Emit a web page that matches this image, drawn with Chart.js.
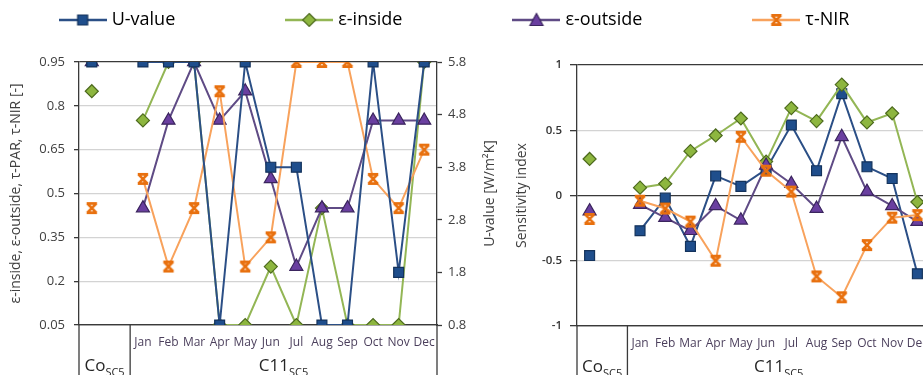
<!DOCTYPE html>
<html>
<head>
<meta charset="utf-8">
<script src="https://cdn.jsdelivr.net/npm/chart.js@4.4.1/dist/chart.umd.min.js"></script>
<style>
  html, body { margin: 0; padding: 0; background: #fff; }
  #wrap { position: relative; width: 923px; height: 375px; overflow: hidden; background: #fff; }
  #wrap canvas { position: absolute; }
</style>
</head>
<body>
<div id="wrap">
  <canvas id="legendChart" width="1100" height="260"></canvas>
  <canvas id="leftChart" width="520" height="375"></canvas>
  <canvas id="rightChart" width="470" height="375"></canvas>
</div>
<script>
// ---- categories ----
const monthLabels = ['', '', 'Jan', 'Feb', 'Mar', 'Apr', 'May', 'Jun', 'Jul', 'Aug', 'Sep', 'Oct', 'Nov', 'Dec'];
const groupMain = ['Co', 'C11'];
const groupSub = ['SC5', 'SC5'];
const groupSpan = [2, 12];
const seriesNames = ['U-value', 'ε-inside', 'ε-outside', 'τ-NIR'];

// ---- left panel: parameter values ----
const uValue     = [5.8, null, 5.8, 5.8, 5.8, 0.8, 5.8, 3.8, 3.8, 0.8, 0.8, 5.8, 1.8, 5.8];
const epsInside  = [0.85, null, 0.75, 0.95, 0.95, 0.05, 0.05, 0.25, 0.05, 0.45, 0.05, 0.05, 0.05, 0.95];
const epsOutside = [0.95, null, 0.45, 0.75, 0.95, 0.75, 0.85, 0.55, 0.25, 0.45, 0.45, 0.75, 0.75, 0.75];
const tauNir     = [0.45, null, 0.55, 0.25, 0.45, 0.85, 0.25, 0.35, 0.95, 0.95, 0.95, 0.55, 0.45, 0.65];
const leftTicks  = [0.05, 0.2, 0.35, 0.5, 0.65, 0.8, 0.95];
const uTicks     = [0.8, 1.8, 2.8, 3.8, 4.8, 5.8];

// ---- right panel: sensitivity indices ----
const siU        = [-0.46, null, -0.27, -0.02, -0.39, 0.15, 0.07, 0.20, 0.54, 0.19, 0.78, 0.22, 0.13, -0.60];
const siEpsIn    = [0.28, null, 0.06, 0.09, 0.34, 0.46, 0.59, 0.26, 0.67, 0.57, 0.85, 0.56, 0.63, -0.05];
const siEpsOut   = [-0.12, null, -0.07, -0.17, -0.27, -0.08, -0.19, 0.23, 0.09, -0.10, 0.45, 0.03, -0.08, -0.20];
const siTau      = [-0.18, null, -0.04, -0.10, -0.20, -0.50, 0.45, 0.19, 0.03, -0.62, -0.78, -0.38, -0.17, -0.15];

// ---- styling ----
const FONT = '"Open Sans", "DejaVu Sans", sans-serif';
const AXIS = '#3a3a3a';
const GRID = '#d3d3d3';
const TEXT = '#404040';
const MONTH = '#4b3f5c';
const U_TITLE = 'U-value [W/m²K]';
const STYLE = [
  { line: '#2B4F86', fill: '#1F4E8C', edge: '#14335C', shape: 'rect',     radius: 7 },
  { line: '#93B655', fill: '#8DB63F', edge: '#4D6A1E', shape: 'rectRot',  radius: 6.5 },
  { line: '#5F4B85', fill: '#6A3FA0', edge: '#3B255E', shape: 'triangle', radius: 7.5 },
  { line: '#F8A25C', fill: '#E8700E', edge: '#E8700E', shape: 'star',     radius: 6 }
];

// star-like marker (X with caps), drawn onto a small canvas
function drawStar(ctx, cx, cy, color) {
  ctx.save();
  ctx.strokeStyle = color;
  ctx.lineWidth = 2.6;
  ctx.lineCap = 'butt';
  const s = 4.6;
  ctx.beginPath();
  ctx.moveTo(cx - s, cy - s); ctx.lineTo(cx + s, cy + s);
  ctx.moveTo(cx + s, cy - s); ctx.lineTo(cx - s, cy + s);
  ctx.moveTo(cx - s - 0.6, cy - s); ctx.lineTo(cx + s + 0.6, cy - s);
  ctx.moveTo(cx - s - 0.6, cy + s); ctx.lineTo(cx + s + 0.6, cy + s);
  ctx.stroke();
  ctx.restore();
}
function starCanvas(color) {
  const c = document.createElement('canvas');
  c.width = 14; c.height = 14;
  drawStar(c.getContext('2d'), 7, 7, color);
  return c;
}
const starMarker = starCanvas(STYLE[3].fill);

// legend swatch: series line with its marker in the middle
function legendSwatch(st) {
  const c = document.createElement('canvas');
  c.width = 48; c.height = 16;
  const g = c.getContext('2d');
  g.strokeStyle = st.line; g.lineWidth = 2.5;
  g.beginPath(); g.moveTo(0, 8); g.lineTo(48, 8); g.stroke();
  g.fillStyle = st.fill; g.strokeStyle = st.edge; g.lineWidth = 1.2;
  g.beginPath();
  if (st.shape === 'rect') { g.rect(19, 3, 10, 10); g.fill(); g.stroke(); }
  else if (st.shape === 'rectRot') { g.moveTo(24, 1.5); g.lineTo(30.5, 8); g.lineTo(24, 14.5); g.lineTo(17.5, 8); g.closePath(); g.fill(); g.stroke(); }
  else if (st.shape === 'triangle') { g.moveTo(24, 1.5); g.lineTo(30.5, 13.5); g.lineTo(17.5, 13.5); g.closePath(); g.fill(); g.stroke(); }
  else { drawStar(g, 24, 8, st.fill); }
  return c;
}

function seriesDataset(i, data, axis, order) {
  const st = STYLE[i];
  return {
    label: seriesNames[i],
    data: data,
    yAxisID: axis,
    order: order,
    borderColor: st.line,
    borderWidth: 2,
    tension: 0,
    spanGaps: false,
    pointStyle: st.shape === 'star' ? starMarker : st.shape,
    pointRadius: st.radius,
    pointHoverRadius: st.radius,
    pointBackgroundColor: st.fill,
    pointBorderColor: st.edge,
    pointBorderWidth: 1.2
  };
}

// two-level category axis: group separators and group names with subscripts
const groupAxis = {
  id: 'groupAxis',
  afterDraw(chart) {
    const { ctx, chartArea } = chart;
    const xs = chart.scales.x;
    const bottom = chartArea.bottom;
    const edges = [chartArea.left];
    let count = 0;
    groupSpan.forEach(n => {
      count += n;
      edges.push(count < monthLabels.length
        ? (xs.getPixelForValue(count - 1) + xs.getPixelForValue(count)) / 2
        : chartArea.right);
    });
    ctx.save();
    ctx.strokeStyle = AXIS;
    ctx.lineWidth = 1.3;
    edges.forEach(px => {
      ctx.beginPath(); ctx.moveTo(px, bottom); ctx.lineTo(px, chart.height); ctx.stroke();
    });
    ctx.fillStyle = '#262626';
    ctx.textAlign = 'left';
    ctx.textBaseline = 'alphabetic';
    groupMain.forEach((main, i) => {
      const cx = (edges[i] + edges[i + 1]) / 2;
      ctx.font = '17px ' + FONT;
      const w1 = ctx.measureText(main).width;
      ctx.font = '11px ' + FONT;
      const w2 = ctx.measureText(groupSub[i]).width;
      const x0 = cx - (w1 + w2) / 2;
      ctx.font = '17px ' + FONT;
      ctx.fillText(main, x0, bottom + 46);
      ctx.font = '11px ' + FONT;
      ctx.fillText(groupSub[i], x0 + w1, bottom + 51);
    });
    ctx.restore();
  }
};

// secondary-axis title, reading bottom to top like the primary one
const uAxisTitle = {
  id: 'uAxisTitle',
  afterDraw(chart) {
    const s = chart.scales.yU;
    if (!s) return;
    const { ctx } = chart;
    ctx.save();
    ctx.translate(s.right - 30, (s.top + s.bottom) / 2);
    ctx.rotate(-Math.PI / 2);
    ctx.font = '14px ' + FONT;
    ctx.fillStyle = TEXT;
    ctx.textAlign = 'center';
    ctx.textBaseline = 'middle';
    ctx.fillText(U_TITLE, 0, 0);
    ctx.restore();
  }
};

const xAxis = (h) => ({
  type: 'category',
  offset: true,
  grid: { display: false, drawTicks: false },
  border: { display: true, color: AXIS, width: 1.3 },
  ticks: { autoSkip: false, maxRotation: 0, minRotation: 0, padding: 10,
           font: { family: FONT, size: 12 }, color: MONTH },
  afterFit: s => { s.height = h; }
});

// ---- legend ----
const LEG_PAD = 114, LEG_FONT = 18, LEG_W = 1100;
const legendCanvas = document.getElementById('legendChart');
legendCanvas.style.left = (456 - LEG_W / 2) + 'px';
legendCanvas.style.top = (20 - (LEG_PAD + LEG_FONT / 2)) + 'px';
const swatches = STYLE.map(legendSwatch);
new Chart(legendCanvas, {
  type: 'line',
  data: { labels: [], datasets: seriesNames.map((n, i) => ({ label: n, data: [], borderColor: STYLE[i].line })) },
  options: {
    responsive: false, animation: false,
    scales: { x: { display: false }, y: { display: false } },
    plugins: {
      tooltip: { enabled: false },
      legend: {
        position: 'top',
        labels: {
          usePointStyle: true, pointStyleWidth: 40, padding: LEG_PAD,
          font: { family: FONT, size: LEG_FONT }, color: '#262626',
          generateLabels: () => seriesNames.map((n, i) => ({
            text: n, pointStyle: swatches[i], fillStyle: STYLE[i].fill,
            strokeStyle: STYLE[i].edge, lineWidth: 0, hidden: false, datasetIndex: i
          }))
        }
      }
    }
  }
});

// ---- left panel ----
new Chart(document.getElementById('leftChart'), {
  type: 'line',
  data: {
    labels: monthLabels,
    datasets: [
      seriesDataset(0, uValue, 'yU', 0),
      seriesDataset(1, epsInside, 'y', 3),
      seriesDataset(2, epsOutside, 'y', 2),
      seriesDataset(3, tauNir, 'y', 1)
    ]
  },
  options: {
    responsive: false, animation: false,
    layout: { padding: { top: 62, left: 0, right: 0, bottom: 0 } },
    plugins: { legend: { display: false }, tooltip: { enabled: false } },
    scales: {
      x: xAxis(50),
      y: {
        position: 'left', min: 0.05, max: 0.95,
        afterBuildTicks: s => { s.ticks = leftTicks.map(v => ({ value: v })); },
        ticks: { callback: v => String(+Number(v).toFixed(2)), padding: 9,
                 font: { family: FONT, size: 13 }, color: TEXT },
        grid: { color: c => (c.index === 0 || c.index === leftTicks.length - 1) ? AXIS : GRID,
                lineWidth: 1.3, tickLength: 5, tickColor: AXIS, tickWidth: 1.3 },
        border: { display: true, color: AXIS, width: 1.3 },
        title: { display: true, text: 'ε-inside, ε-outside, τ-PAR, τ-NIR [-]',
                 font: { family: FONT, size: 14 }, color: TEXT, padding: { top: 8, bottom: 0 } },
        afterFit: s => { s.width = 79; }
      },
      yU: {
        position: 'right', min: 0.8, max: 5.8,
        afterBuildTicks: s => { s.ticks = uTicks.map(v => ({ value: v })); },
        ticks: { callback: v => String(+Number(v).toFixed(1)), padding: 6,
                 font: { family: FONT, size: 13 }, color: TEXT },
        grid: { drawOnChartArea: false, tickLength: 5, tickColor: AXIS, tickWidth: 1.3 },
        border: { display: true, color: AXIS, width: 1.3 },
        title: { display: false },
        afterFit: s => { s.width = 83; }
      }
    }
  },
  plugins: [groupAxis, uAxisTitle]
});

// ---- right panel ----
const rightCanvas = document.getElementById('rightChart');
rightCanvas.style.left = '480px';
new Chart(rightCanvas, {
  type: 'line',
  data: {
    labels: monthLabels,
    datasets: [
      seriesDataset(0, siU, 'y', 3),
      seriesDataset(1, siEpsIn, 'y', 2),
      seriesDataset(2, siEpsOut, 'y', 1),
      seriesDataset(3, siTau, 'y', 0)
    ]
  },
  options: {
    responsive: false, animation: false,
    layout: { padding: { top: 65, left: 0, right: 20, bottom: 0 } },
    plugins: { legend: { display: false }, tooltip: { enabled: false } },
    scales: {
      x: xAxis(49),
      y: {
        position: 'left', min: -1, max: 1,
        ticks: { stepSize: 0.5, padding: 8, callback: v => String(+Number(v).toFixed(1)),
                 font: { family: FONT, size: 11.5, weight: '600' }, color: '#333' },
        grid: { color: c => (c.tick && Math.abs(c.tick.value) % 1 === 0) ? AXIS : GRID,
                lineWidth: 1.3, tickLength: 7, tickColor: AXIS, tickWidth: 1.3 },
        border: { display: true, color: AXIS, width: 1.3 },
        title: { display: true, text: 'Sensitivity index',
                 font: { family: FONT, size: 14 }, color: TEXT, padding: { top: 34, bottom: 0 } },
        afterFit: s => { s.width = 97; }
      }
    }
  },
  plugins: [groupAxis]
});
</script>
</body>
</html>
